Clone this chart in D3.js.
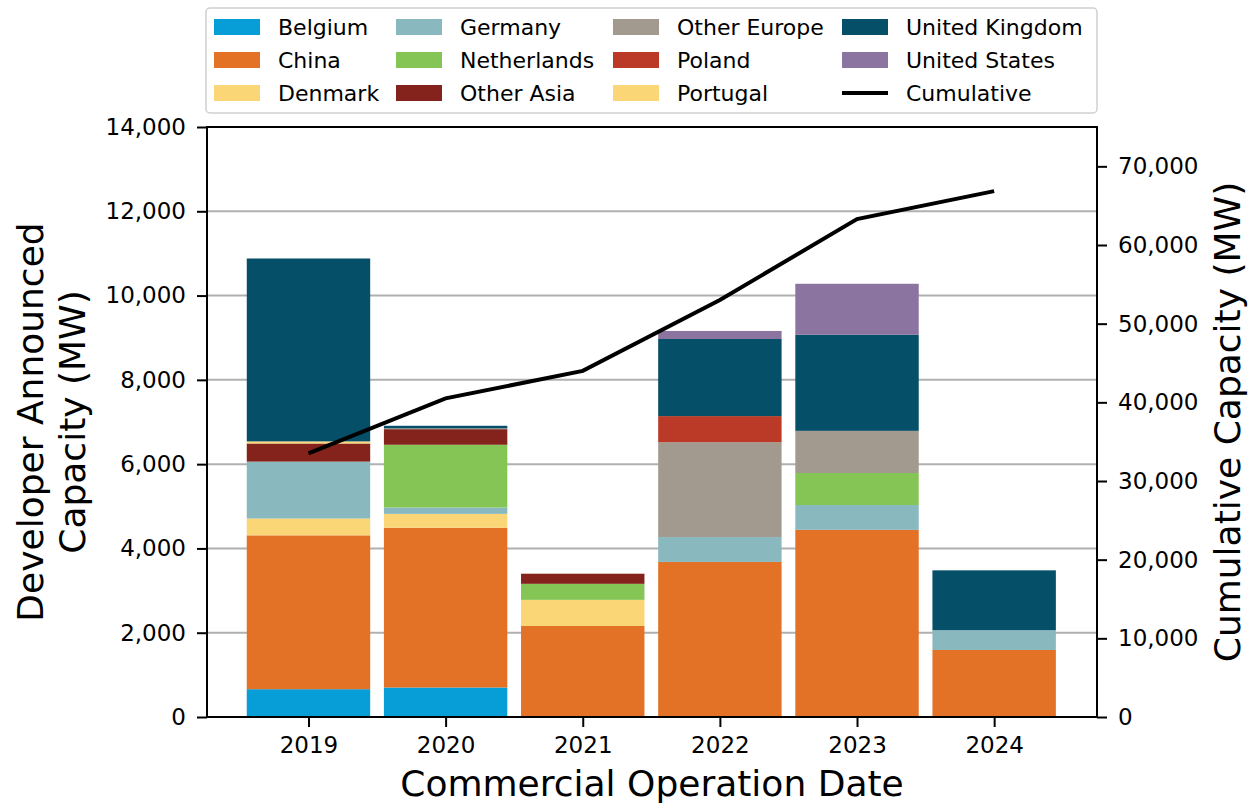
<!DOCTYPE html>
<html>
<head>
<meta charset="utf-8">
<script src="https://cdn.jsdelivr.net/npm/d3@7"></script>
<style>
  html, body { margin: 0; padding: 0; background: #fff; }
  svg { display: block; font-family: "DejaVu Sans", sans-serif; }
</style>
</head>
<body>
<svg id="chart" width="1249" height="806"></svg>
<script>
// ---- data ----
const years = ["2019", "2020", "2021", "2022", "2023", "2024"];
const countries = ["Belgium", "China", "Denmark", "Germany", "Netherlands", "Other Asia",
                   "Other Europe", "Poland", "Portugal", "United Kingdom", "United States"];
const belgium       = [660, 700, 0, 0, 0, 0];
const china         = [3650, 3790, 2160, 3680, 4440, 1590];
const denmark       = [400, 330, 620, 0, 0, 0];
const germany       = [1350, 150, 0, 590, 590, 470];
const netherlands   = [0, 1490, 380, 0, 760, 0];
const otherAsia     = [430, 370, 240, 0, 0, 0];
const otherEurope   = [0, 20, 0, 2250, 1000, 0];
const poland        = [0, 0, 0, 620, 0, 0];
const portugal      = [50, 0, 0, 0, 0, 0];
const unitedKingdom = [4340, 60, 0, 1830, 2280, 1420];
const unitedStates  = [0, 0, 0, 190, 1210, 0];
const cumulative    = [33500, 40500, 44000, 53000, 63300, 66850];
const leftTicks  = [0, 2000, 4000, 6000, 8000, 10000, 12000, 14000];
const rightTicks = [0, 10000, 20000, 30000, 40000, 50000, 60000, 70000];

const seriesValues = [belgium, china, denmark, germany, netherlands, otherAsia,
                      otherEurope, poland, portugal, unitedKingdom, unitedStates];
const colors = ["#079dd6", "#e37126", "#fad677", "#89b8bf", "#84c556", "#84231c",
                "#a39a8f", "#bb3a27", "#fad677", "#054f69", "#8b749f"];

// ---- layout ----
const L = 207, R = 1097, T = 127, B = 717;
const svg = d3.select("#chart");

const x = d3.scaleLinear().domain([-0.74, 5.75]).range([L, R]);
const yL = d3.scaleLinear().domain([0, 14000]).range([B, T]);
const yR = d3.scaleLinear().domain([0, 75000]).range([B, T]);
const barW = x(0.9) - x(0);

// table for stacking
const table = years.map((yr, i) => {
  const row = { year: yr, idx: i };
  countries.forEach((c, k) => row[c] = seriesValues[k][i]);
  return row;
});
const stacked = d3.stack().keys(countries)(table);

// grid
svg.append("g").selectAll("line").data(leftTicks.slice(1, -1)).join("line")
  .attr("x1", L).attr("x2", R)
  .attr("y1", d => yL(d)).attr("y2", d => yL(d))
  .attr("stroke", "#b0b0b0").attr("stroke-width", 2);

// bars
stacked.forEach((layer, k) => {
  svg.append("g").attr("fill", colors[k])
    .selectAll("rect").data(layer.filter(d => d[1] - d[0] > 0)).join("rect")
    .attr("x", d => x(d.data.idx) - barW / 2)
    .attr("width", barW)
    .attr("y", d => yL(d[1]))
    .attr("height", d => yL(d[0]) - yL(d[1]));
});

// cumulative line
const line = d3.line().x((d, i) => x(i)).y(d => yR(d));
svg.append("path").datum(cumulative)
  .attr("d", line).attr("fill", "none")
  .attr("stroke", "#000").attr("stroke-width", 4);

// frame
svg.append("rect").attr("x", L).attr("y", T).attr("width", R - L).attr("height", B - T)
  .attr("fill", "none").attr("stroke", "#000").attr("stroke-width", 2);

// axes
const fmt = d3.format(",");
const axL = svg.append("g").attr("transform", `translate(${L},0)`)
  .call(d3.axisLeft(yL).tickValues(leftTicks).tickFormat(fmt).tickSize(10).tickPadding(11));
const axR = svg.append("g").attr("transform", `translate(${R},0)`)
  .call(d3.axisRight(yR).tickValues(rightTicks).tickFormat(fmt).tickSize(10).tickPadding(11));
const axB = svg.append("g").attr("transform", `translate(0,${B})`)
  .call(d3.axisBottom(x).tickValues(d3.range(years.length)).tickFormat(i => years[i]).tickSize(10).tickPadding(10));
[axL, axR, axB].forEach(a => {
  a.select(".domain").remove();
  a.selectAll(".tick line").attr("stroke", "#000").attr("stroke-width", 2);
  a.selectAll(".tick text").attr("fill", "#000")
    .style("font-family", "'DejaVu Sans', sans-serif").style("font-size", "23px");
});

// axis labels
svg.append("text").attr("x", 652).attr("y", 796).attr("text-anchor", "middle")
  .style("font-size", "36px").text("Commercial Operation Date");
const ylab = svg.append("text").attr("text-anchor", "middle")
  .attr("transform", "translate(0,422) rotate(-90)").style("font-size", "36px");
ylab.append("tspan").attr("x", 0).attr("y", 43).text("Developer Announced");
ylab.append("tspan").attr("x", 0).attr("y", 85).text("Capacity (MW)");
svg.append("text").attr("text-anchor", "middle")
  .attr("transform", "translate(1240,422) rotate(-90)").style("font-size", "36px")
  .text("Cumulative Capacity (MW)");

// legend
const lg = svg.append("g");
lg.append("rect").attr("x", 206).attr("y", 8).attr("width", 891).attr("height", 105)
  .attr("rx", 4).attr("fill", "#fff").attr("fill-opacity", 0.8)
  .attr("stroke", "#d0d0d0").attr("stroke-width", 1.5);
const colX = [214, 396, 613, 842];
const rowY = [27, 60, 93];
const legendItems = countries.map((c, k) => ({ name: c, color: colors[k], type: "patch" }));
legendItems.push({ name: "Cumulative", color: "#000", type: "line" });
legendItems.forEach((it, i) => {
  const col = Math.floor(i / 3), row = i % 3;
  const gx = colX[col], gy = rowY[row];
  if (it.type === "patch") {
    lg.append("rect").attr("x", gx).attr("y", gy - 8).attr("width", 46).attr("height", 16)
      .attr("fill", it.color);
  } else {
    lg.append("line").attr("x1", gx).attr("x2", gx + 46).attr("y1", gy).attr("y2", gy)
      .attr("stroke", it.color).attr("stroke-width", 4);
  }
  lg.append("text").attr("x", gx + 64).attr("y", gy + 8)
    .style("font-size", "22px").text(it.name);
});
</script>
</body>
</html>
